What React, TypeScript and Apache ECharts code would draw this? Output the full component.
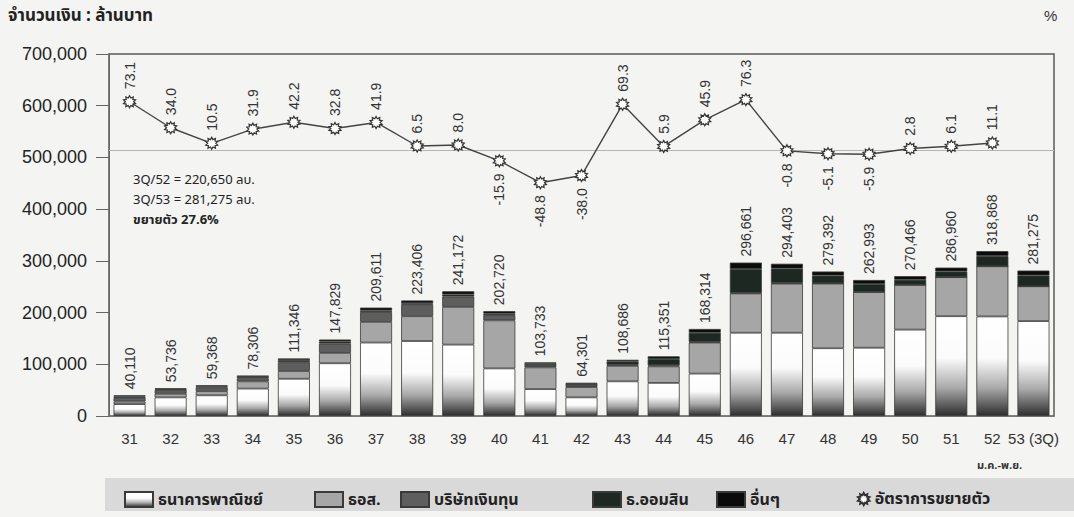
import React, { useEffect, useRef } from "react";
import * as echarts from "echarts";

const years = ["31","32","33","34","35","36","37","38","39","40","41","42","43","44","45","46","47","48","49","50","51","52","53 (3Q)"];
const commercial = [23000, 36000, 40000, 53000, 72000, 102000, 142000, 145000, 138000, 92000, 52000, 36000, 67000, 64000, 82000, 161000, 161000, 131000, 132000, 167000, 193000, 192500, 183500];
const ghb = [5000, 7000, 8000, 14000, 15000, 20000, 40000, 48000, 73000, 93000, 42000, 20000, 30000, 32000, 60000, 76000, 95000, 125000, 107700, 86500, 75500, 97000, 67300];
const finance = [7000, 7000, 7000, 6000, 17000, 18000, 19000, 22000, 20000, 10000, 3000, 2000, 2000, 2000, 1000, 1000, 1000, 500, 300, 0, 0, 0, 0];
const gsb = [2600, 2000, 2368, 2500, 4000, 4000, 3000, 3000, 4000, 3000, 4000, 4000, 6000, 12000, 18000, 46000, 28000, 15000, 15000, 10000, 11000, 20000, 21000];
const others = [2510, 1736, 2000, 2806, 3346, 3829, 5611, 5406, 6172, 4720, 2733, 2301, 3686, 5351, 7314, 12661, 9403, 7892, 7993, 6966, 7460, 9368, 9475];
const growth: (number | null)[] = [73.1, 34.0, 10.5, 31.9, 42.2, 32.8, 41.9, 6.5, 8.0, -15.9, -48.8, -38.0, 69.3, 5.9, 45.9, 76.3, -0.8, -5.1, -5.9, 2.8, 6.1, 11.1, null];

const seriesNames = ["ธนาคารพาณิชย์", "ธอส.", "บริษัทเงินทุน", "ธ.ออมสิน", "อื่นๆ", "อัตราการขยายตัว"];
const annotation = ["3Q/52 = 220,650 ลบ.", "3Q/53 = 281,275 ลบ.", "ขยายตัว 27.6%"];

const FONT = "'Liberation Sans', Arial, 'Noto Sans', sans-serif";
const THAI = "'Noto Sans Thai', 'Loma', 'Garuda', 'Liberation Sans', sans-serif";

function starPath(): string {
  const pts: string[] = [];
  const n = 20;
  for (let i = 0; i < n; i++) {
    const a = (i * Math.PI * 2) / n - Math.PI / 2;
    const r = i % 2 === 0 ? 10 : 6.5;
    pts.push(`${(10 + r * Math.cos(a)).toFixed(2)} ${(10 + r * Math.sin(a)).toFixed(2)}`);
  }
  return "path://M" + pts.join(" L") + " Z";
}

export default function App() {
  const ref = useRef<HTMLDivElement>(null);
  useEffect(() => {
    if (!ref.current) return;
    const chart = echarts.init(ref.current, null, { renderer: "svg" });
    const totals = years.map((_, i) => commercial[i] + ghb[i] + finance[i] + gsb[i] + others[i]);
    const star = starPath();
    const barBorder = { borderColor: "#3a3a3a", borderWidth: 0.8 };
    const commercialFill = new echarts.graphic.LinearGradient(0, 0, 0, 1, [
      { offset: 0, color: "#ffffff" },
      { offset: 0.42, color: "#fbfbfb" },
      { offset: 0.72, color: "#a9a9a9" },
      { offset: 1, color: "#2e2e2e" },
    ]);
    const colors = [commercialFill, "#a6a6a6", "#5e5e5e", "#1d2823", "#0b0b0b"];
    const barData = [commercial, ghb, finance, gsb, others];

    const bars = barData.map((d, k) => ({
      name: seriesNames[k],
      type: "bar",
      stack: "total",
      barWidth: 32,
      data: d,
      itemStyle: { color: colors[k], ...barBorder },
      label:
        k === 4
          ? {
              show: true,
              position: "top",
              rotate: 90,
              align: "left",
              verticalAlign: "middle",
              distance: 6,
              fontSize: 14,
              fontFamily: FONT,
              color: "#333",
              formatter: (p: any) => totals[p.dataIndex].toLocaleString("en-US"),
            }
          : { show: false },
      z: 2,
    }));

    const lineData = growth.map((v) =>
      v === null
        ? "-"
        : {
            value: v,
            label:
              v >= 0
                ? { position: "top", align: "left" }
                : { position: "bottom", align: "right" },
          }
    );

    const legendBase = {
      top: 486,
      itemWidth: 28,
      itemHeight: 15,
      icon: "rect",
      textStyle: { fontSize: 16, fontWeight: "bold", color: "#222", fontFamily: THAI },
      z: 10,
    };
    const legendLefts = [119, 309, 395, 587, 711, 852];

    chart.setOption({
      animation: false,
      backgroundColor: "#f4f4f2",
      grid: { left: 109, right: 20, top: 54, bottom: 101, show: true, borderColor: "#5a5a5a", borderWidth: 1.5, backgroundColor: "transparent" },
      legend: seriesNames.map((n, i) => ({
        ...legendBase,
        left: legendLefts[i],
        data: [n],
        ...(i === 5 ? { icon: star, itemWidth: 12, itemHeight: 12 } : {}),
      })),
      xAxis: {
        type: "category",
        data: years,
        axisLine: { lineStyle: { color: "#777", width: 1 } },
        axisTick: { alignWithLabel: true, length: 7, lineStyle: { color: "#666" } },
        axisLabel: { fontSize: 15, color: "#333", margin: 15, fontFamily: FONT, interval: 0 },
      },
      yAxis: [
        {
          type: "value",
          min: 0,
          max: 700000,
          interval: 100000,
          axisLine: { show: true, lineStyle: { color: "#666" } },
          axisTick: { show: true, length: 13, lineStyle: { color: "#666" } },
          splitLine: { show: false },
          axisLabel: {
            fontSize: 18,
            color: "#222",
            margin: 22,
            fontFamily: FONT,
            formatter: (v: number) => v.toLocaleString("en-US"),
          },
        },
        {
          type: "value",
          min: -400,
          max: 145,
          show: false,
          splitLine: { show: false },
        },
      ],
      series: [
        ...bars,
        {
          name: seriesNames[5],
          type: "line",
          yAxisIndex: 1,
          data: lineData,
          symbol: star,
          symbolSize: 12,
          itemStyle: { color: "#ffffff", borderColor: "#333", borderWidth: 1.2 },
          lineStyle: { color: "#444", width: 1.4 },
          label: {
            show: true,
            rotate: 90,
            verticalAlign: "middle",
            distance: 6,
            fontSize: 14,
            fontFamily: FONT,
            color: "#333",
            formatter: (p: any) => Number(p.value).toFixed(1),
          },
          markLine: {
            silent: true,
            symbol: "none",
            label: { show: false },
            lineStyle: { color: "#b5b5b5", type: "solid", width: 1.2 },
            data: [{ yAxis: 0 }],
          },
          z: 5,
        },
      ],
      graphic: [
        { type: "rect", z: -1, shape: { x: 105, y: 478, width: 969, height: 33 }, style: { fill: "#d9d9d9" } },
        { type: "text", left: 8, top: 7, style: { text: "จำนวนเงิน : ล้านบาท", font: `bold 17px ${THAI}`, fill: "#222" } },
        { type: "text", left: 1044, top: 8, style: { text: "%", font: `15px ${FONT}`, fill: "#333" } },
        { type: "text", left: 133, top: 173, style: { text: annotation[0], font: `13px ${THAI}`, fill: "#222" } },
        { type: "text", left: 133, top: 193, style: { text: annotation[1], font: `13px ${THAI}`, fill: "#222" } },
        { type: "text", left: 133, top: 213, style: { text: annotation[2], font: `bold 13px ${THAI}`, fill: "#222" } },
        { type: "text", left: 977, top: 460, style: { text: "ม.ค.-พ.ย.", font: `bold 11px ${THAI}`, fill: "#333" } },
      ],
    });
    return () => chart.dispose();
  }, []);
  return <div ref={ref} style={{ position: "fixed", left: 0, top: 0, width: 1074, height: 517 }} />;
}
